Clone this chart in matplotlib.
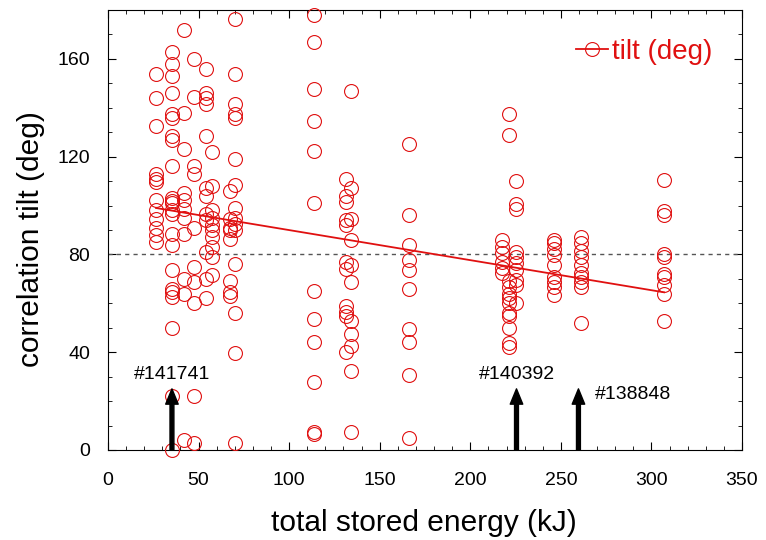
import matplotlib.pyplot as plt
import numpy as np

plt.rcParams['font.family'] = ['Liberation Sans', 'DejaVu Sans']

# tilt angle of the correlation vs. stored energy, one column per shot group
energy_26 = [26.5] * 12
tilt_26 = [154, 144, 132.7, 113, 111, 109.5, 102.4, 98, 94.6, 91, 88, 85]

energy_35 = [35.4] * 21
tilt_35 = [163, 158, 153, 146, 137.5, 136, 128.5, 127, 116, 103, 102, 101,
           98, 96.7, 88.5, 84, 73.5, 66, 64.5, 62.4, 50]
energy_35b = [35.4, 35.4]
tilt_35b = [22, 0]

energy_42 = [42] * 11
tilt_42 = [172, 138, 123, 105, 102.4, 98.7, 95, 88.5, 70, 64, 4]

energy_47 = [47.5] * 10
tilt_47 = [160, 144.6, 116, 113, 91, 75, 68.6, 60, 22, 3]

energy_54 = [54] * 12
tilt_54 = [156, 146, 144, 141.5, 128.5, 107, 104, 96.5, 94, 81, 70, 62]

energy_57 = [57.5] * 10
tilt_57 = [122, 108, 98, 95, 92, 90, 87, 83, 79, 71.4]

energy_67 = [67.5] * 8
tilt_67 = [106, 94.6, 91, 90, 86.5, 69, 64.5, 63]

energy_70 = [70] * 15
tilt_70 = [176.5, 154, 141.6, 137.5, 136, 119, 108.5, 99, 95, 92.6, 90,
           76, 56, 39.5, 3]

energy_114 = [113.8] * 12
tilt_114 = [178, 167, 147.6, 134.5, 122.4, 101, 65, 53.5, 44, 28, 7.3, 6.5]

energy_131 = [131.5] * 11
tilt_131 = [111, 104, 101.3, 94, 92.2, 76.7, 74, 58.8, 56.3, 55, 40]

energy_134 = [134] * 11
tilt_134 = [147, 107, 94.6, 86, 75.5, 68.6, 52.7, 47.3, 42.4, 32.2, 7.3]

energy_166 = [166] * 10
tilt_166 = [125.3, 96.3, 83.7, 77.6, 73.5, 65.7, 49.4, 44, 30.6, 4.9]

energy_218 = [217.7] * 6
tilt_218 = [86, 83, 80.4, 76.7, 74.3, 72.2]

energy_221 = [221.5] * 12
tilt_221 = [137.6, 129, 69, 66.5, 64, 62, 60, 56, 50, 43.7, 42, 55]

energy_225 = [225.4] * 10
tilt_225 = [110, 100.8, 98.4, 80.8, 78.8, 76.3, 73.5, 69.4, 67.3, 60]

energy_246 = [246.4] * 9
tilt_246 = [86, 84.5, 82.4, 79.6, 75.5, 70.6, 68.6, 66.5, 63.3]

energy_261 = [261] * 10
tilt_261 = [87, 84.5, 81.6, 78.8, 75.5, 72.6, 70.6, 68.6, 66.5, 52]

energy_307 = [307] * 10
tilt_307 = [110.6, 97.6, 96.3, 80, 78.8, 71.8, 70.6, 67.3, 64, 52.6]

energy = np.concatenate([energy_26, energy_35, energy_35b, energy_42, energy_47,
                         energy_54, energy_57, energy_67, energy_70, energy_114,
                         energy_131, energy_134, energy_166, energy_218,
                         energy_221, energy_225, energy_246, energy_261,
                         energy_307])
tilt = np.concatenate([tilt_26, tilt_35, tilt_35b, tilt_42, tilt_47, tilt_54,
                       tilt_57, tilt_67, tilt_70, tilt_114, tilt_131, tilt_134,
                       tilt_166, tilt_218, tilt_221, tilt_225, tilt_246,
                       tilt_261, tilt_307])

# linear trend
fit_x = [26.5, 307]
fit_y = [99, 64.5]

# marked shots
shot_labels = ['#141741', '#140392', '#138848']
shot_energy = [35.3, 225.5, 259.7]
arrow_top = 25

red = '#e01010'

fig = plt.figure(figsize=(7.66, 5.4), dpi=100)
ax = fig.add_axes([0.141, 0.1667, 0.8277, 0.8148])

ax.axhline(80, color='#555555', ls=(0, (3, 3)), lw=1)
ax.plot(fit_x, fit_y, color=red, lw=1.3, zorder=3)
ax.plot(energy, tilt, 'o', ms=10, mfc='none', mec=red, mew=0.8,
        clip_on=False, zorder=4)

# legend entry: line with a circle marker
ax.plot([], [], '-o', color=red, ms=10, mfc='none', mew=0.8, lw=1.3,
        label='tilt (deg)')
leg = ax.legend(loc='upper right', frameon=False, fontsize=20,
                handlelength=1.15, handletextpad=0.15, borderaxespad=0,
                bbox_to_anchor=(0.971, 0.959))
for t in leg.get_texts():
    t.set_color(red)

for e in shot_energy:
    ax.annotate('', xy=(e, arrow_top), xytext=(e, 0),
                arrowprops=dict(facecolor='black', edgecolor='black',
                                width=2.8, headwidth=9, headlength=11),
                zorder=5)
ax.text(shot_energy[0], 31, shot_labels[0], ha='center', va='center', fontsize=14)
ax.text(shot_energy[1], 31, shot_labels[1], ha='center', va='center', fontsize=14)
ax.text(269, 22.5, shot_labels[2], ha='left', va='center', fontsize=14)

ax.set_xlim(0, 350)
ax.set_ylim(0, 180)
ax.set_xticks(np.arange(0, 351, 50))
ax.set_yticks(np.arange(0, 161, 40))
ax.set_xticks(np.arange(0, 351, 10), minor=True)
ax.set_yticks(np.arange(0, 181, 10), minor=True)
ax.tick_params(which='both', direction='in', top=True, right=True,
               labelsize=14)
ax.tick_params(axis='x', pad=16)
ax.tick_params(axis='y', pad=13)
ax.tick_params(which='major', length=6)
ax.tick_params(which='minor', length=3)

ax.set_xlabel('total stored energy (kJ)', fontsize=21.5)
ax.set_ylabel('correlation tilt (deg)', fontsize=21.5)
ax.xaxis.set_label_coords(0.498, -0.133)
ax.yaxis.set_label_coords(-0.099, 0.48)

fig.savefig('out.png', dpi=100)
